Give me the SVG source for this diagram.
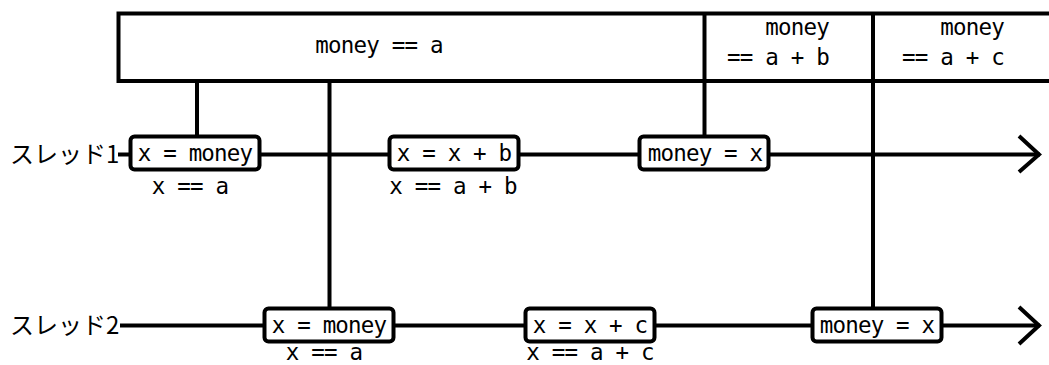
<svg xmlns="http://www.w3.org/2000/svg" width="1049" height="365" viewBox="0 0 1049 365">
<style>
.ln{stroke:#000;stroke-width:4;fill:none}
.bx{stroke:#000;stroke-width:4;fill:#fff}
.t{font-family:"DejaVu Sans Mono","Liberation Mono",monospace;font-size:22.5px;letter-spacing:-0.8px;fill:#000}
.m{text-anchor:middle}
.e{text-anchor:end}
.jp{font-family:"Noto Sans CJK JP","Noto Sans",sans-serif;font-size:24px;fill:#000}
</style>
<rect width="1049" height="365" fill="#fff"/>
<g id="state">
<rect x="118.5" y="13.5" width="940" height="67.5" class="bx"/>
<line x1="704.5" y1="13.5" x2="704.5" y2="81" class="ln"/>
<line x1="873" y1="13.5" x2="873" y2="81" class="ln"/>
<text x="379" y="53" class="t m">money == a</text>
<text x="829" y="35" class="t e">money</text>
<text x="829" y="65" class="t e">== a + b</text>
<text x="1004" y="35" class="t e">money</text>
<text x="1004" y="65" class="t e">== a + c</text>
</g>
<g id="connectors">
<line x1="118" y1="154.5" x2="1040" y2="154.5" class="ln"/>
<polyline points="1019,136 1039,154.5 1019,172" class="ln"/>
<line x1="120" y1="325.5" x2="1040" y2="325.5" class="ln"/>
<polyline points="1019,307 1039,325.5 1019,344" class="ln"/>
<line x1="197" y1="81" x2="197" y2="137" class="ln"/>
<line x1="329.5" y1="81" x2="329.5" y2="310" class="ln"/>
<line x1="704.5" y1="81" x2="704.5" y2="137" class="ln"/>
<line x1="873" y1="81" x2="873" y2="310" class="ln"/>
</g>
<g id="thread1-label"><text x="10" y="163" class="jp">スレッド1</text></g>
<g id="thread2-label"><text x="10" y="334" class="jp">スレッド2</text></g>
<g id="t1-read">
<rect x="130.5" y="136.5" width="129" height="33" rx="4" class="bx"/>
<text x="195" y="161" class="t m">x = money</text>
<text x="190" y="194" class="t m">x == a</text>
</g>
<g id="t1-add">
<rect x="389.5" y="136.5" width="129" height="33" rx="4" class="bx"/>
<text x="454" y="161" class="t m">x = x + b</text>
<text x="453" y="194" class="t m">x == a + b</text>
</g>
<g id="t1-write">
<rect x="639.5" y="136.5" width="129" height="33" rx="4" class="bx"/>
<text x="705" y="161" class="t m">money = x</text>
</g>
<g id="t2-read">
<rect x="264.5" y="308.5" width="129" height="33" rx="4" class="bx"/>
<text x="329" y="333" class="t m">x = money</text>
<text x="324" y="360" class="t m">x == a</text>
</g>
<g id="t2-add">
<rect x="525.5" y="308.5" width="129" height="33" rx="4" class="bx"/>
<text x="590" y="333" class="t m">x = x + c</text>
<text x="590" y="360" class="t m">x == a + c</text>
</g>
<g id="t2-write">
<rect x="812.5" y="308.5" width="129" height="33" rx="4" class="bx"/>
<text x="877" y="333" class="t m">money = x</text>
</g>
</svg>
